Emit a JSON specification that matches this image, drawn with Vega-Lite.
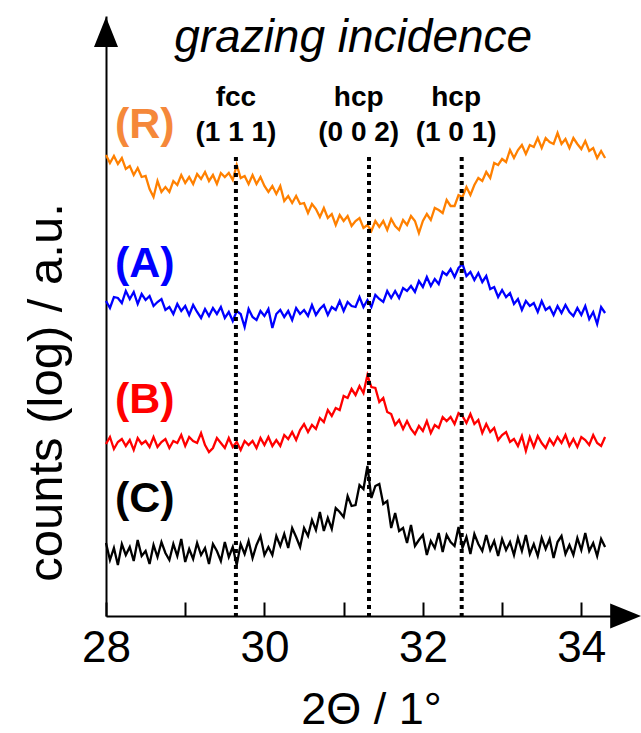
{
  "$schema": "https://vega.github.io/schema/vega-lite/v6.json",
  "width": 507,
  "height": 600,
  "autosize": {"type": "none"},
  "padding": {"left": 106, "top": 16, "right": 28, "bottom": 117},
  "background": "#ffffff",
  "config": {"view": {"stroke": null}, "font": "Liberation Sans"},
  "datasets": {
    "curves": [
{"s":"R","x":28.00,"y":461},{"s":"R","x":28.05,"y":453},{"s":"R","x":28.10,"y":460},{"s":"R","x":28.15,"y":452},{"s":"R","x":28.20,"y":458},{"s":"R","x":28.25,"y":447},{"s":"R","x":28.30,"y":450},{"s":"R","x":28.35,"y":441},{"s":"R","x":28.40,"y":448},{"s":"R","x":28.45,"y":439},
{"s":"R","x":28.50,"y":440},{"s":"R","x":28.55,"y":427},{"s":"R","x":28.60,"y":419},{"s":"R","x":28.65,"y":435},{"s":"R","x":28.70,"y":424},{"s":"R","x":28.75,"y":429},{"s":"R","x":28.80,"y":424},{"s":"R","x":28.85,"y":435},{"s":"R","x":28.90,"y":431},{"s":"R","x":28.95,"y":441},
{"s":"R","x":29.00,"y":433},{"s":"R","x":29.05,"y":439},{"s":"R","x":29.10,"y":432},{"s":"R","x":29.15,"y":442},{"s":"R","x":29.20,"y":437},{"s":"R","x":29.25,"y":444},{"s":"R","x":29.30,"y":435},{"s":"R","x":29.35,"y":441},{"s":"R","x":29.40,"y":432},{"s":"R","x":29.45,"y":443},
{"s":"R","x":29.50,"y":439},{"s":"R","x":29.55,"y":443},{"s":"R","x":29.60,"y":436},{"s":"R","x":29.65,"y":451},{"s":"R","x":29.70,"y":438},{"s":"R","x":29.75,"y":440},{"s":"R","x":29.80,"y":432},{"s":"R","x":29.85,"y":441},{"s":"R","x":29.90,"y":432},{"s":"R","x":29.95,"y":439},
{"s":"R","x":30.00,"y":430},{"s":"R","x":30.05,"y":424},{"s":"R","x":30.10,"y":430},{"s":"R","x":30.15,"y":422},{"s":"R","x":30.20,"y":430},{"s":"R","x":30.25,"y":415},{"s":"R","x":30.30,"y":420},{"s":"R","x":30.35,"y":413},{"s":"R","x":30.40,"y":420},{"s":"R","x":30.45,"y":412},
{"s":"R","x":30.50,"y":413},{"s":"R","x":30.55,"y":403},{"s":"R","x":30.60,"y":412},{"s":"R","x":30.65,"y":407},{"s":"R","x":30.70,"y":399},{"s":"R","x":30.75,"y":408},{"s":"R","x":30.80,"y":398},{"s":"R","x":30.85,"y":402},{"s":"R","x":30.90,"y":391},{"s":"R","x":30.95,"y":401},
{"s":"R","x":31.00,"y":395},{"s":"R","x":31.05,"y":400},{"s":"R","x":31.10,"y":390},{"s":"R","x":31.15,"y":395},{"s":"R","x":31.20,"y":398},{"s":"R","x":31.25,"y":388},{"s":"R","x":31.30,"y":391},{"s":"R","x":31.35,"y":385},{"s":"R","x":31.40,"y":395},{"s":"R","x":31.45,"y":389},
{"s":"R","x":31.50,"y":395},{"s":"R","x":31.55,"y":386},{"s":"R","x":31.60,"y":397},{"s":"R","x":31.65,"y":390},{"s":"R","x":31.70,"y":386},{"s":"R","x":31.75,"y":396},{"s":"R","x":31.80,"y":391},{"s":"R","x":31.85,"y":400},{"s":"R","x":31.90,"y":395},{"s":"R","x":31.95,"y":383},
{"s":"R","x":32.00,"y":395},{"s":"R","x":32.05,"y":402},{"s":"R","x":32.10,"y":396},{"s":"R","x":32.15,"y":408},{"s":"R","x":32.20,"y":406},{"s":"R","x":32.25,"y":403},{"s":"R","x":32.30,"y":416},{"s":"R","x":32.35,"y":410},{"s":"R","x":32.40,"y":410},{"s":"R","x":32.45,"y":421},
{"s":"R","x":32.50,"y":419},{"s":"R","x":32.55,"y":429},{"s":"R","x":32.60,"y":421},{"s":"R","x":32.65,"y":431},{"s":"R","x":32.70,"y":438},{"s":"R","x":32.75,"y":435},{"s":"R","x":32.80,"y":444},{"s":"R","x":32.85,"y":438},{"s":"R","x":32.90,"y":453},{"s":"R","x":32.95,"y":451},
{"s":"R","x":33.00,"y":457},{"s":"R","x":33.05,"y":454},{"s":"R","x":33.10,"y":466},{"s":"R","x":33.15,"y":458},{"s":"R","x":33.20,"y":466},{"s":"R","x":33.25,"y":471},{"s":"R","x":33.30,"y":462},{"s":"R","x":33.35,"y":471},{"s":"R","x":33.40,"y":469},{"s":"R","x":33.45,"y":478},
{"s":"R","x":33.50,"y":468},{"s":"R","x":33.55,"y":478},{"s":"R","x":33.60,"y":474},{"s":"R","x":33.65,"y":472},{"s":"R","x":33.70,"y":483},{"s":"R","x":33.75,"y":472},{"s":"R","x":33.80,"y":477},{"s":"R","x":33.85,"y":468},{"s":"R","x":33.90,"y":478},{"s":"R","x":33.95,"y":472},
{"s":"R","x":34.00,"y":467},{"s":"R","x":34.05,"y":475},{"s":"R","x":34.10,"y":465},{"s":"R","x":34.15,"y":468},{"s":"R","x":34.20,"y":458},{"s":"R","x":34.25,"y":465},{"s":"R","x":34.30,"y":458},
{"s":"A","x":28.00,"y":315},{"s":"A","x":28.05,"y":308},{"s":"A","x":28.10,"y":319},{"s":"A","x":28.15,"y":318},{"s":"A","x":28.20,"y":313},{"s":"A","x":28.25,"y":325},{"s":"A","x":28.30,"y":317},{"s":"A","x":28.35,"y":324},{"s":"A","x":28.40,"y":312},{"s":"A","x":28.45,"y":322},
{"s":"A","x":28.50,"y":316},{"s":"A","x":28.55,"y":320},{"s":"A","x":28.60,"y":310},{"s":"A","x":28.65,"y":314},{"s":"A","x":28.70,"y":317},{"s":"A","x":28.75,"y":306},{"s":"A","x":28.80,"y":309},{"s":"A","x":28.85,"y":302},{"s":"A","x":28.90,"y":312},{"s":"A","x":28.95,"y":305},
{"s":"A","x":29.00,"y":310},{"s":"A","x":29.05,"y":301},{"s":"A","x":29.10,"y":311},{"s":"A","x":29.15,"y":304},{"s":"A","x":29.20,"y":298},{"s":"A","x":29.25,"y":307},{"s":"A","x":29.30,"y":300},{"s":"A","x":29.35,"y":308},{"s":"A","x":29.40,"y":302},{"s":"A","x":29.45,"y":309},
{"s":"A","x":29.50,"y":298},{"s":"A","x":29.55,"y":304},{"s":"A","x":29.60,"y":295},{"s":"A","x":29.65,"y":305},{"s":"A","x":29.70,"y":302},{"s":"A","x":29.75,"y":289},{"s":"A","x":29.80,"y":307},{"s":"A","x":29.85,"y":299},{"s":"A","x":29.90,"y":296},{"s":"A","x":29.95,"y":305},
{"s":"A","x":30.00,"y":300},{"s":"A","x":30.05,"y":307},{"s":"A","x":30.10,"y":288},{"s":"A","x":30.15,"y":302},{"s":"A","x":30.20,"y":306},{"s":"A","x":30.25,"y":299},{"s":"A","x":30.30,"y":305},{"s":"A","x":30.35,"y":296},{"s":"A","x":30.40,"y":308},{"s":"A","x":30.45,"y":302},
{"s":"A","x":30.50,"y":306},{"s":"A","x":30.55,"y":300},{"s":"A","x":30.60,"y":311},{"s":"A","x":30.65,"y":301},{"s":"A","x":30.70,"y":307},{"s":"A","x":30.75,"y":311},{"s":"A","x":30.80,"y":301},{"s":"A","x":30.85,"y":309},{"s":"A","x":30.90,"y":306},{"s":"A","x":30.95,"y":315},
{"s":"A","x":31.00,"y":305},{"s":"A","x":31.05,"y":314},{"s":"A","x":31.10,"y":310},{"s":"A","x":31.15,"y":309},{"s":"A","x":31.20,"y":319},{"s":"A","x":31.25,"y":309},{"s":"A","x":31.30,"y":316},{"s":"A","x":31.35,"y":309},{"s":"A","x":31.40,"y":321},{"s":"A","x":31.45,"y":317},
{"s":"A","x":31.50,"y":314},{"s":"A","x":31.55,"y":325},{"s":"A","x":31.60,"y":318},{"s":"A","x":31.65,"y":325},{"s":"A","x":31.70,"y":318},{"s":"A","x":31.75,"y":328},{"s":"A","x":31.80,"y":325},{"s":"A","x":31.85,"y":330},{"s":"A","x":31.90,"y":324},{"s":"A","x":31.95,"y":335},
{"s":"A","x":32.00,"y":329},{"s":"A","x":32.05,"y":339},{"s":"A","x":32.10,"y":330},{"s":"A","x":32.15,"y":337},{"s":"A","x":32.20,"y":332},{"s":"A","x":32.25,"y":344},{"s":"A","x":32.30,"y":341},{"s":"A","x":32.35,"y":347},{"s":"A","x":32.40,"y":339},{"s":"A","x":32.45,"y":348},
{"s":"A","x":32.50,"y":352},{"s":"A","x":32.55,"y":340},{"s":"A","x":32.60,"y":344},{"s":"A","x":32.65,"y":336},{"s":"A","x":32.70,"y":343},{"s":"A","x":32.75,"y":334},{"s":"A","x":32.80,"y":340},{"s":"A","x":32.85,"y":327},{"s":"A","x":32.90,"y":329},{"s":"A","x":32.95,"y":319},
{"s":"A","x":33.00,"y":326},{"s":"A","x":33.05,"y":319},{"s":"A","x":33.10,"y":323},{"s":"A","x":33.15,"y":312},{"s":"A","x":33.20,"y":317},{"s":"A","x":33.25,"y":306},{"s":"A","x":33.30,"y":315},{"s":"A","x":33.35,"y":310},{"s":"A","x":33.40,"y":313},{"s":"A","x":33.45,"y":304},
{"s":"A","x":33.50,"y":315},{"s":"A","x":33.55,"y":306},{"s":"A","x":33.60,"y":309},{"s":"A","x":33.65,"y":301},{"s":"A","x":33.70,"y":310},{"s":"A","x":33.75,"y":303},{"s":"A","x":33.80,"y":311},{"s":"A","x":33.85,"y":304},{"s":"A","x":33.90,"y":300},{"s":"A","x":33.95,"y":308},
{"s":"A","x":34.00,"y":301},{"s":"A","x":34.05,"y":310},{"s":"A","x":34.10,"y":297},{"s":"A","x":34.15,"y":304},{"s":"A","x":34.20,"y":292},{"s":"A","x":34.25,"y":309},{"s":"A","x":34.30,"y":303},
{"s":"B","x":28.00,"y":172},{"s":"B","x":28.05,"y":179},{"s":"B","x":28.10,"y":167},{"s":"B","x":28.15,"y":174},{"s":"B","x":28.20,"y":177},{"s":"B","x":28.25,"y":170},{"s":"B","x":28.30,"y":176},{"s":"B","x":28.35,"y":166},{"s":"B","x":28.40,"y":178},{"s":"B","x":28.45,"y":172},
{"s":"B","x":28.50,"y":175},{"s":"B","x":28.55,"y":169},{"s":"B","x":28.60,"y":179},{"s":"B","x":28.65,"y":169},{"s":"B","x":28.70,"y":174},{"s":"B","x":28.75,"y":177},{"s":"B","x":28.80,"y":168},{"s":"B","x":28.85,"y":175},{"s":"B","x":28.90,"y":173},{"s":"B","x":28.95,"y":181},
{"s":"B","x":29.00,"y":170},{"s":"B","x":29.05,"y":179},{"s":"B","x":29.10,"y":175},{"s":"B","x":29.15,"y":173},{"s":"B","x":29.20,"y":183},{"s":"B","x":29.25,"y":171},{"s":"B","x":29.30,"y":164},{"s":"B","x":29.35,"y":168},{"s":"B","x":29.40,"y":178},{"s":"B","x":29.45,"y":173},
{"s":"B","x":29.50,"y":168},{"s":"B","x":29.55,"y":178},{"s":"B","x":29.60,"y":169},{"s":"B","x":29.65,"y":174},{"s":"B","x":29.70,"y":166},{"s":"B","x":29.75,"y":175},{"s":"B","x":29.80,"y":171},{"s":"B","x":29.85,"y":175},{"s":"B","x":29.90,"y":168},{"s":"B","x":29.95,"y":178},
{"s":"B","x":30.00,"y":171},{"s":"B","x":30.05,"y":179},{"s":"B","x":30.10,"y":170},{"s":"B","x":30.15,"y":176},{"s":"B","x":30.20,"y":170},{"s":"B","x":30.25,"y":181},{"s":"B","x":30.30,"y":177},{"s":"B","x":30.35,"y":184},{"s":"B","x":30.40,"y":176},{"s":"B","x":30.45,"y":186},
{"s":"B","x":30.50,"y":192},{"s":"B","x":30.55,"y":184},{"s":"B","x":30.60,"y":191},{"s":"B","x":30.65,"y":187},{"s":"B","x":30.70,"y":198},{"s":"B","x":30.75,"y":194},{"s":"B","x":30.80,"y":206},{"s":"B","x":30.85,"y":200},{"s":"B","x":30.90,"y":208},{"s":"B","x":30.95,"y":206},
{"s":"B","x":31.00,"y":220},{"s":"B","x":31.05,"y":218},{"s":"B","x":31.10,"y":227},{"s":"B","x":31.15,"y":221},{"s":"B","x":31.20,"y":230},{"s":"B","x":31.25,"y":223},{"s":"B","x":31.30,"y":241},{"s":"B","x":31.35,"y":229},{"s":"B","x":31.40,"y":228},{"s":"B","x":31.45,"y":214},
{"s":"B","x":31.50,"y":218},{"s":"B","x":31.55,"y":204},{"s":"B","x":31.60,"y":202},{"s":"B","x":31.65,"y":191},{"s":"B","x":31.70,"y":196},{"s":"B","x":31.75,"y":187},{"s":"B","x":31.80,"y":195},{"s":"B","x":31.85,"y":187},{"s":"B","x":31.90,"y":182},{"s":"B","x":31.95,"y":190},
{"s":"B","x":32.00,"y":185},{"s":"B","x":32.05,"y":195},{"s":"B","x":32.10,"y":183},{"s":"B","x":32.15,"y":191},{"s":"B","x":32.20,"y":188},{"s":"B","x":32.25,"y":199},{"s":"B","x":32.30,"y":195},{"s":"B","x":32.35,"y":199},{"s":"B","x":32.40,"y":192},{"s":"B","x":32.45,"y":203},
{"s":"B","x":32.50,"y":200},{"s":"B","x":32.55,"y":193},{"s":"B","x":32.60,"y":202},{"s":"B","x":32.65,"y":192},{"s":"B","x":32.70,"y":196},{"s":"B","x":32.75,"y":183},{"s":"B","x":32.80,"y":192},{"s":"B","x":32.85,"y":184},{"s":"B","x":32.90,"y":188},{"s":"B","x":32.95,"y":176},
{"s":"B","x":33.00,"y":181},{"s":"B","x":33.05,"y":184},{"s":"B","x":33.10,"y":174},{"s":"B","x":33.15,"y":177},{"s":"B","x":33.20,"y":170},{"s":"B","x":33.25,"y":180},{"s":"B","x":33.30,"y":165},{"s":"B","x":33.35,"y":179},{"s":"B","x":33.40,"y":169},{"s":"B","x":33.45,"y":180},
{"s":"B","x":33.50,"y":173},{"s":"B","x":33.55,"y":168},{"s":"B","x":33.60,"y":177},{"s":"B","x":33.65,"y":171},{"s":"B","x":33.70,"y":179},{"s":"B","x":33.75,"y":173},{"s":"B","x":33.80,"y":181},{"s":"B","x":33.85,"y":170},{"s":"B","x":33.90,"y":177},{"s":"B","x":33.95,"y":169},
{"s":"B","x":34.00,"y":179},{"s":"B","x":34.05,"y":176},{"s":"B","x":34.10,"y":171},{"s":"B","x":34.15,"y":181},{"s":"B","x":34.20,"y":173},{"s":"B","x":34.25,"y":170},{"s":"B","x":34.30,"y":179},
{"s":"C","x":28.00,"y":73},{"s":"C","x":28.05,"y":56},{"s":"C","x":28.10,"y":68},{"s":"C","x":28.15,"y":51},{"s":"C","x":28.20,"y":72},{"s":"C","x":28.25,"y":61},{"s":"C","x":28.30,"y":69},{"s":"C","x":28.35,"y":55},{"s":"C","x":28.40,"y":76},{"s":"C","x":28.45,"y":60},
{"s":"C","x":28.50,"y":65},{"s":"C","x":28.55,"y":52},{"s":"C","x":28.60,"y":71},{"s":"C","x":28.65,"y":59},{"s":"C","x":28.70,"y":74},{"s":"C","x":28.75,"y":63},{"s":"C","x":28.80,"y":56},{"s":"C","x":28.85,"y":72},{"s":"C","x":28.90,"y":60},{"s":"C","x":28.95,"y":77},
{"s":"C","x":29.00,"y":54},{"s":"C","x":29.05,"y":67},{"s":"C","x":29.10,"y":57},{"s":"C","x":29.15,"y":73},{"s":"C","x":29.20,"y":61},{"s":"C","x":29.25,"y":68},{"s":"C","x":29.30,"y":52},{"s":"C","x":29.35,"y":72},{"s":"C","x":29.40,"y":65},{"s":"C","x":29.45,"y":55},
{"s":"C","x":29.50,"y":74},{"s":"C","x":29.55,"y":59},{"s":"C","x":29.60,"y":69},{"s":"C","x":29.65,"y":51},{"s":"C","x":29.70,"y":72},{"s":"C","x":29.75,"y":62},{"s":"C","x":29.80,"y":75},{"s":"C","x":29.85,"y":58},{"s":"C","x":29.90,"y":71},{"s":"C","x":29.95,"y":80},
{"s":"C","x":30.00,"y":61},{"s":"C","x":30.05,"y":69},{"s":"C","x":30.10,"y":61},{"s":"C","x":30.15,"y":80},{"s":"C","x":30.20,"y":70},{"s":"C","x":30.25,"y":82},{"s":"C","x":30.30,"y":68},{"s":"C","x":30.35,"y":88},{"s":"C","x":30.40,"y":79},{"s":"C","x":30.45,"y":69},
{"s":"C","x":30.50,"y":88},{"s":"C","x":30.55,"y":80},{"s":"C","x":30.60,"y":96},{"s":"C","x":30.65,"y":86},{"s":"C","x":30.70,"y":104},{"s":"C","x":30.75,"y":85},{"s":"C","x":30.80,"y":98},{"s":"C","x":30.85,"y":87},{"s":"C","x":30.90,"y":108},{"s":"C","x":30.95,"y":104},
{"s":"C","x":31.00,"y":99},{"s":"C","x":31.05,"y":120},{"s":"C","x":31.10,"y":110},{"s":"C","x":31.15,"y":111},{"s":"C","x":31.20,"y":131},{"s":"C","x":31.25,"y":127},{"s":"C","x":31.30,"y":150},{"s":"C","x":31.35,"y":118},{"s":"C","x":31.40,"y":130},{"s":"C","x":31.45,"y":132},
{"s":"C","x":31.50,"y":112},{"s":"C","x":31.55,"y":115},{"s":"C","x":31.60,"y":88},{"s":"C","x":31.65,"y":103},{"s":"C","x":31.70,"y":85},{"s":"C","x":31.75,"y":88},{"s":"C","x":31.80,"y":73},{"s":"C","x":31.85,"y":91},{"s":"C","x":31.90,"y":70},{"s":"C","x":31.95,"y":76},
{"s":"C","x":32.00,"y":81},{"s":"C","x":32.05,"y":61},{"s":"C","x":32.10,"y":75},{"s":"C","x":32.15,"y":68},{"s":"C","x":32.20,"y":83},{"s":"C","x":32.25,"y":64},{"s":"C","x":32.30,"y":81},{"s":"C","x":32.35,"y":74},{"s":"C","x":32.40,"y":70},{"s":"C","x":32.45,"y":89},
{"s":"C","x":32.50,"y":68},{"s":"C","x":32.55,"y":79},{"s":"C","x":32.60,"y":62},{"s":"C","x":32.65,"y":82},{"s":"C","x":32.70,"y":72},{"s":"C","x":32.75,"y":65},{"s":"C","x":32.80,"y":81},{"s":"C","x":32.85,"y":66},{"s":"C","x":32.90,"y":75},{"s":"C","x":32.95,"y":60},
{"s":"C","x":33.00,"y":77},{"s":"C","x":33.05,"y":66},{"s":"C","x":33.10,"y":74},{"s":"C","x":33.15,"y":61},{"s":"C","x":33.20,"y":78},{"s":"C","x":33.25,"y":65},{"s":"C","x":33.30,"y":81},{"s":"C","x":33.35,"y":62},{"s":"C","x":33.40,"y":72},{"s":"C","x":33.45,"y":60},
{"s":"C","x":33.50,"y":78},{"s":"C","x":33.55,"y":67},{"s":"C","x":33.60,"y":77},{"s":"C","x":33.65,"y":58},{"s":"C","x":33.70,"y":74},{"s":"C","x":33.75,"y":80},{"s":"C","x":33.80,"y":62},{"s":"C","x":33.85,"y":71},{"s":"C","x":33.90,"y":61},{"s":"C","x":33.95,"y":78},
{"s":"C","x":34.00,"y":66},{"s":"C","x":34.05,"y":83},{"s":"C","x":34.10,"y":65},{"s":"C","x":34.15,"y":73},{"s":"C","x":34.20,"y":60},{"s":"C","x":34.25,"y":77},{"s":"C","x":34.30,"y":69}
    ],
    "peaks": [
      {"x": 29.64, "lx": 29.64, "phase": "fcc", "hkl": "(1 1 1)"},
      {"x": 31.32, "lx": 31.19, "phase": "hcp", "hkl": "(0 0 2)"},
      {"x": 32.49, "lx": 32.42, "phase": "hcp", "hkl": "(1 0 1)"}
    ],
    "samples": [
      {"s": "R", "label": "(R)", "lv": 491},
      {"s": "A", "label": "(A)", "lv": 352},
      {"s": "B", "label": "(B)", "lv": 216},
      {"s": "C", "label": "(C)", "lv": 117}
    ]
  },
  "resolve": {"scale": {"color": "independent"}},
  "layer": [
    {
      "data": {"name": "curves"},
      "mark": {"type": "line", "strokeWidth": 2.3, "strokeJoin": "miter"},
      "encoding": {
        "x": {
          "field": "x", "type": "quantitative",
          "scale": {"domain": [28, 34.4], "nice": false, "zero": false},
          "axis": {
            "title": "2Θ / 1°", "values": [28, 29, 30, 31, 32, 33, 34], "format": "d",
            "labelExpr": "datum.value % 2 === 0 ? datum.label : ''",
            "grid": false, "domainColor": "#000000", "domainWidth": 2,
            "tickColor": "#000000", "tickWidth": 2, "tickSize": -14, "labelPadding": 24,
            "labelFontSize": 44, "labelColor": "#000000", "labelFlush": false, "labelOverlap": false,
            "titleFontSize": 45, "titleFontWeight": "normal", "titleColor": "#000000",
            "titleX": 265, "titleY": 93, "titleBaseline": "middle", "titleAlign": "center"
          }
        },
        "y": {
          "field": "y", "type": "quantitative",
          "scale": {"domain": [0, 600], "nice": false, "zero": false},
          "axis": {
            "title": "counts (log) / a.u.", "ticks": false, "labels": false, "grid": false,
            "domainColor": "#000000", "domainWidth": 2,
            "titleFontSize": 49, "titleFontWeight": "normal", "titleColor": "#000000",
            "titleX": -60, "titleY": 376, "titleAngle": -90, "titleBaseline": "middle", "titleAlign": "center"
          }
        },
        "color": {
          "field": "s", "type": "nominal",
          "scale": {"domain": ["R", "A", "B", "C"], "range": ["#FF8000", "#0000FF", "#FF0000", "#000000"]},
          "legend": null
        }
      }
    },
    {
      "data": {"name": "peaks"},
      "mark": {"type": "rule", "strokeDash": [4, 4], "strokeWidth": 4, "color": "#000000", "strokeCap": "butt"},
      "encoding": {
        "x": {"field": "x", "type": "quantitative"},
        "y": {"datum": 459},
        "y2": {"datum": 0}
      }
    },
    {
      "data": {"name": "peaks"},
      "mark": {"type": "text", "fontSize": 28, "fontWeight": "bold", "color": "#000000", "align": "center", "baseline": "middle"},
      "encoding": {
        "x": {"field": "lx", "type": "quantitative"},
        "y": {"datum": 518},
        "text": {"field": "phase"}
      }
    },
    {
      "data": {"name": "peaks"},
      "mark": {"type": "text", "fontSize": 28, "fontWeight": "bold", "color": "#000000", "align": "center", "baseline": "middle"},
      "encoding": {
        "x": {"field": "lx", "type": "quantitative"},
        "y": {"datum": 483},
        "text": {"field": "hkl"}
      }
    },
    {
      "data": {"name": "samples"},
      "mark": {"type": "text", "fontSize": 43, "fontWeight": "bold", "align": "center", "baseline": "middle"},
      "encoding": {
        "x": {"datum": 28.49},
        "y": {"field": "lv", "type": "quantitative"},
        "text": {"field": "label"},
        "color": {
          "field": "s", "type": "nominal",
          "scale": {"domain": ["R", "A", "B", "C"], "range": ["#F5883A", "#0000FF", "#FF0000", "#000000"]},
          "legend": null
        }
      }
    },
    {
      "data": {"values": [{}]},
      "mark": {"type": "text", "text": "grazing incidence", "fontSize": 46, "fontStyle": "italic", "align": "center", "baseline": "middle", "color": "#000000"},
      "encoding": {"x": {"datum": 31.12}, "y": {"datum": 578}}
    },
    {
      "data": {"values": [{}]},
      "mark": {"type": "point", "shape": "M-1,-0.8L1,0L-1,0.8Z", "size": 961, "filled": true, "color": "#000000", "opacity": 1, "strokeWidth": 0},
      "encoding": {"x": {"datum": 34.56}, "y": {"datum": 0}}
    },
    {
      "data": {"values": [{}]},
      "mark": {"type": "point", "shape": "M-0.8,1L0,-1L0.8,1Z", "size": 900, "filled": true, "color": "#000000", "opacity": 1, "strokeWidth": 0},
      "encoding": {"x": {"datum": 28}, "y": {"datum": 584}}
    }
  ]
}
